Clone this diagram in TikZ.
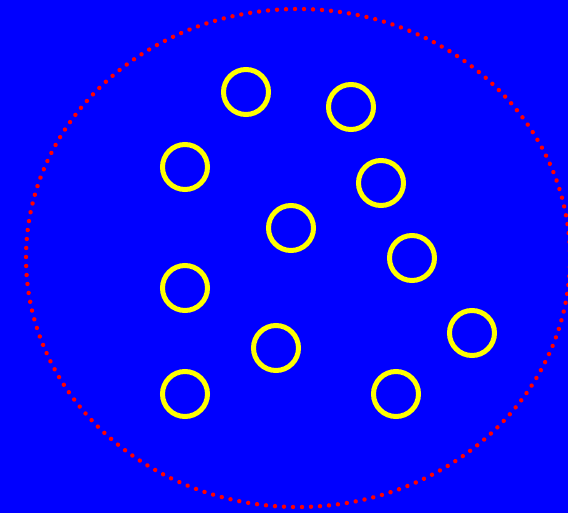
\documentclass[tikz,border=0pt]{standalone}
\usepackage{tikz}
\usepackage{xcolor}
\usetikzlibrary{positioning}
\definecolor{bgblue}{RGB}{0,0,255}
\definecolor{ringyellow}{RGB}{255,255,0}
\definecolor{dotred}{RGB}{255,0,0}
\tikzset{ring/.style={circle,draw=ringyellow,line width=5pt,minimum size=45pt,inner sep=0pt}}

\begin{document}
\begin{tikzpicture}[x=1pt,y=-1pt]
  \fill[bgblue] (0,0) rectangle (568,513);
  \useasboundingbox (0,0) rectangle (568,513);
  \draw[dotred,line width=4.4pt,line cap=round,dash pattern=on 0.01pt off 9pt] (298,258) ellipse [x radius=272,y radius=249];
  \node[ring] (r1) at (246,92) {};
  \node[ring] (r2) at (351,107) {};
  \node[ring] (r3) at (185,167) {};
  \node[ring] (r4) at (381,183) {};
  \node[ring] (r5) at (291,228) {};
  \node[ring] (r6) at (412,258) {};
  \node[ring] (r7) at (185,288) {};
  \node[ring] (r8) at (472,333) {};
  \node[ring] (r9) at (276,348) {};
  \node[ring] (r10) at (185,394) {};
  \node[ring] (r11) at (396,394) {};
\end{tikzpicture}
\end{document}
